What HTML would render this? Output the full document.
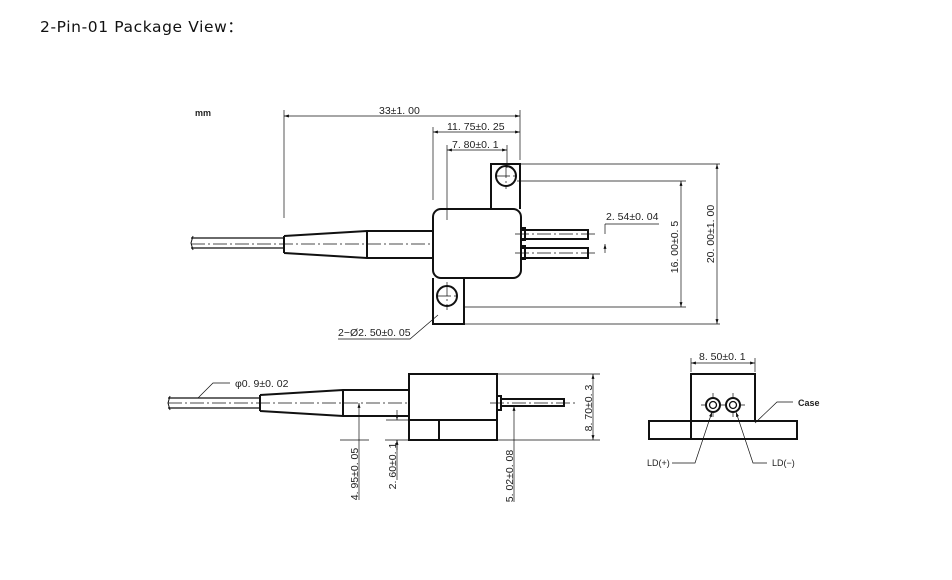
<!DOCTYPE html>
<html><head><meta charset="utf-8"><style>
html,body{margin:0;padding:0;background:#fff;width:952px;height:580px;overflow:hidden}
svg{display:block}
text{font-family:"Liberation Sans","DejaVu Sans",sans-serif;fill:#222}
</style></head><body>
<svg width="952" height="580" viewBox="0 0 952 580" xmlns="http://www.w3.org/2000/svg">
<defs>
<marker id="a" viewBox="0 0 10 10" refX="10" refY="5" markerWidth="7" markerHeight="7" orient="auto-start-reverse"><path d="M0,2 L10,5 L0,8 z" fill="#111"/></marker>
</defs>
<text x="40" y="32" style="font-family:'DejaVu Sans',sans-serif;font-size:15.5px;letter-spacing:0.6px;fill:#111">2-Pin-01 Package View：</text>

<g stroke="#111" fill="none">
<text x="195" y="116" font-size="9" stroke="none" font-weight="bold">mm</text>
<g stroke-width="2">
<rect x="433" y="209" width="88" height="69" rx="8"/>
<path d="M491,209 V164 H520 V209"/>
<path d="M433,278 V324 H464 V278"/>
<path d="M284,236 L367,231 L433,231 M284,253 L367,258 L433,258 M284,236 V253 M367,231 V258"/>
<path d="M521,230 H588 V239 H521 M521,248 H588 V258 H521"/>
<rect x="521" y="228" width="4" height="12"/>
<rect x="521" y="246" width="4" height="13"/>
</g>
<circle cx="506" cy="176" r="10" stroke-width="2"/>
<circle cx="447" cy="296" r="10" stroke-width="2"/>
<path d="M191,238 H284 M191,248 H284" stroke-width="1.3"/>
<path d="M193,236 L191,243 L193,250" stroke-width="1"/>
<g stroke-width="0.7" stroke-dasharray="14,3,2,3">
<path d="M191,244 H433"/>
<path d="M515,234 H598 M515,253 H598"/>
<path d="M506,164 V189 M447,282 V310"/>
<path d="M496,176 H516 M437,296 H457"/>
</g>
<g stroke-width="0.7">
<path d="M284,110 V218 M520,110 V160 M433,127 V200 M447,145 V220 M507,145 V168"/>
<path d="M284,116 H520" marker-start="url(#a)" marker-end="url(#a)"/>
<path d="M433,132 H520" marker-start="url(#a)" marker-end="url(#a)"/>
<path d="M447,150 H507" marker-start="url(#a)" marker-end="url(#a)"/>
<path d="M520,164 H720 M517,181 H686 M464,307 H686 M464,324 H720"/>
<path d="M681,181 V307" marker-start="url(#a)" marker-end="url(#a)"/>
<path d="M717,164 V324" marker-start="url(#a)" marker-end="url(#a)"/>
<path d="M605,224 V234 M605,253 V244" marker-end="url(#a)"/>
<path d="M605,224 H659"/>
<path d="M338,339 H410 L438,315"/>
</g>
<g stroke="none" font-size="10.5">
<text x="379" y="114">33±1. 00</text>
<text x="447" y="130">11. 75±0. 25</text>
<text x="452" y="148">7. 80±0. 1</text>
<text x="606" y="220">2. 54±0. 04</text>
<text x="338" y="336">2−Ø2. 50±0. 05</text>
<text transform="translate(678,247) rotate(-90)" text-anchor="middle">16. 00±0. 5</text>
<text transform="translate(714,234) rotate(-90)" text-anchor="middle">20. 00±1. 00</text>
</g>

<g stroke-width="2">
<rect x="409" y="374" width="88" height="66"/>
<path d="M409,420 H497 M439,420 V440"/>
<path d="M260,395 L343,390 L409,390 M260,411 L343,416 L409,416 M260,395 V411 M343,390 V416"/>
<rect x="497" y="396" width="4" height="14"/>
<path d="M501,399 H564 V406 H501"/>
</g>
<path d="M168,398 H260 M168,408 H260" stroke-width="1.3"/>
<path d="M170,396 L168,403 L170,410" stroke-width="1"/>
<path d="M168,403 H409 M490,403 H575" stroke-width="0.7" stroke-dasharray="14,3,2,3"/>
<g stroke-width="0.7">
<path d="M198,398 L213,383 H230"/>
<path d="M340,440 H369 M385,440 H409 M497,374 H600 M497,440 H600 M386,420 H409 M504,440 H520"/>
<path d="M359,440 V403" marker-end="url(#a)"/>
<path d="M359,440 V500"/>
<path d="M397,410 V420" marker-end="url(#a)"/>
<path d="M397,450 V440" marker-end="url(#a)"/>
<path d="M397,440 V480"/>
<path d="M514,440 V406" marker-end="url(#a)"/>
<path d="M514,440 V502"/>
<path d="M593,374 V440" marker-start="url(#a)" marker-end="url(#a)"/>
</g>
<g stroke="none" font-size="10.5">
<text x="235" y="387">φ0. 9±0. 02</text>
<text transform="translate(358,474) rotate(-90)" text-anchor="middle">4. 95±0. 05</text>
<text transform="translate(396,466) rotate(-90)" text-anchor="middle">2. 60±0. 1</text>
<text transform="translate(513,476) rotate(-90)" text-anchor="middle">5. 02±0. 08</text>
<text transform="translate(592,408) rotate(-90)" text-anchor="middle">8. 70±0. 3</text>
</g>

<g stroke-width="2">
<rect x="649" y="421" width="148" height="18"/>
<path d="M691,439 V374 H755 V421"/>
</g>
<circle cx="713" cy="405" r="7" stroke-width="2"/>
<circle cx="713" cy="405" r="3.5" stroke-width="1.3"/>
<circle cx="733" cy="405" r="7" stroke-width="2"/>
<circle cx="733" cy="405" r="3.5" stroke-width="1.3"/>
<g stroke-width="0.7">
<path d="M713,393 V397 M713,413 V417 M701,405 H705 M721,405 H725"/>
<path d="M733,393 V397 M733,413 V417 M741,405 H745"/>
<path d="M691,358 V372 M755,358 V372"/>
<path d="M691,363 H755" marker-start="url(#a)" marker-end="url(#a)"/>
<path d="M755,423 L777,402 H793"/>
<path d="M672,463 H695 L712,412" marker-end="url(#a)"/>
<path d="M767,463 H753 L736,412" marker-end="url(#a)"/>
</g>
<g stroke="none" font-size="9">
<text x="699" y="360" font-size="10.5">8. 50±0. 1</text>
<text x="798" y="406" font-weight="bold">Case</text>
<text x="647" y="466">LD(+)</text>
<text x="772" y="466">LD(−)</text>
</g>
</g>
</svg>
</body></html>
